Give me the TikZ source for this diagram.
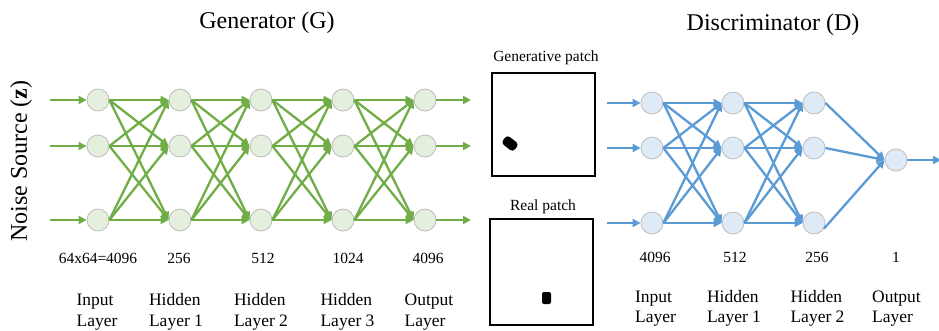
\documentclass[tikz,border=0pt]{standalone}
\usepackage{fontspec}
\setmainfont{Liberation Serif}
\usetikzlibrary{arrows.meta}
\definecolor{gline}{HTML}{70AD47}
\definecolor{gfill}{HTML}{E5EFDD}
\definecolor{bline}{HTML}{5B9BD5}
\definecolor{bfill}{HTML}{DEEBF7}
\definecolor{ringgray}{HTML}{BDBDBD}
\begin{document}
\begin{tikzpicture}[x=1pt,y=-1pt,
  neuron/.style={circle, draw=ringgray, line width=0.8pt, minimum size=22pt, inner sep=0pt},
  gnode/.style={neuron, fill=gfill},
  dnode/.style={neuron, fill=bfill},
  glink/.style={draw=gline, line width=2.3pt, -{Triangle[length=8pt,width=8pt]}},
  dlink/.style={draw=bline, line width=2.3pt, -{Triangle[length=8pt,width=8pt]}},
  title/.style={font=\fontsize{24}{28}\selectfont, inner sep=0pt},
  num/.style={font=\fontsize{15.5}{18}\selectfont, inner sep=0pt},
  lay/.style={font=\fontsize{17.5}{20.5}\selectfont, align=left, inner sep=0pt},
  patchcap/.style={font=\fontsize{15.5}{18}\selectfont, inner sep=0pt},
  patch/.style={draw=black, line width=1.7pt, fill=white}]
\useasboundingbox (0,0) rectangle (939,330);

% ---------------- Generator ----------------
\node[title] (gtitle) at (267,23) {Generator (G)};
\node[font=\fontsize{24}{28}\selectfont, rotate=90, inner sep=0pt] (noise) at (21,161) {Noise Source (\textbf{z})};

\foreach \c/\x in {0/98,1/180,2/261,3/343,4/425}
  \foreach \r/\y in {a/100,b/146,c/220}
    \node[gnode] (g\c\r) at (\x,\y) {};

\foreach \c [evaluate=\c as \n using int(\c+1)] in {0,...,3}
  \foreach \r in {a,b,c}
    \foreach \s in {a,b,c}
      \draw[glink] (g\c\r.east) -- (g\n\s.west);

\foreach \r/\y in {a/100,b/146,c/220}{
  \coordinate (gin\r) at (50,\y);
  \coordinate (gout\r) at (471,\y);
  \draw[glink, line width=2pt] (gin\r) -- (g0\r.west);
  \draw[glink, line width=2pt] (g4\r.east) -- (gout\r);
}

\node[num] (gn0) at (98,258) {64x64=4096};
\node[num] (gn1) at (179,258) {256};
\node[num] (gn2) at (263,258) {512};
\node[num] (gn3) at (348,258) {1024};
\node[num] (gn4) at (428,258) {4096};

\node[lay] (gl0) at (97,312) {Input\\Layer};
\node[lay] (gl1) at (176,312) {Hidden\\Layer 1};
\node[lay] (gl2) at (261,312) {Hidden\\Layer 2};
\node[lay] (gl3) at (347.5,312) {Hidden\\Layer 3};
\node[lay] (gl4) at (429,312) {Output\\Layer};

% ---------------- Patches ----------------
\node[patchcap] (gpcap) at (546,58) {Generative patch};
\draw[patch] (492,73) rectangle (595,176);
\node[fill=black, rounded corners=3.5pt, minimum width=15pt, minimum height=10pt, inner sep=0pt, rotate=-38] (gblob) at (510,143.5) {};

\node[patchcap] (rpcap) at (543,207) {Real patch};
\draw[patch] (490,219) rectangle (593,325);
\node[fill=black, rounded corners=2pt, minimum width=9pt, minimum height=12pt, inner sep=0pt] (rblob) at (546.5,298) {};

% ---------------- Discriminator ----------------
\node[title] (dtitle) at (773,25) {Discriminator (D)};

\foreach \c/\x in {0/652,1/733,2/814}
  \foreach \r/\y in {a/103,b/148,c/223}
    \node[dnode] (d\c\r) at (\x,\y) {};
\node[dnode] (dout) at (896,160) {};

\foreach \c [evaluate=\c as \n using int(\c+1)] in {0,1}
  \foreach \r in {a,b,c}
    \foreach \s in {a,b,c}
      \draw[dlink] (d\c\r.east) -- (d\n\s.west);

\draw[dlink] (d2a.east) -- (dout.west);
\draw[dlink] (d2b.east) -- (dout.west);
\draw[dlink] (d2c.-30) -- (dout.west);

\foreach \r/\y in {a/103,b/148,c/223}{
  \coordinate (din\r) at (607,\y);
  \draw[dlink, line width=2pt] (din\r) -- (d0\r.west);
}
\coordinate (dend) at (941,160);
\draw[dlink, line width=2pt] (dout.east) -- (dend);

\node[num] (dn0) at (655,257) {4096};
\node[num] (dn1) at (735,257) {512};
\node[num] (dn2) at (817,257) {256};
\node[num] (dn3) at (896,257) {1};

\node[lay] (dl0) at (655.5,308.5) {Input\\Layer};
\node[lay] (dl1) at (734,308.5) {Hidden\\Layer 1};
\node[lay] (dl2) at (817.5,308.5) {Hidden\\Layer 2};
\node[lay] (dl3) at (896.5,308.5) {Output\\Layer};
\end{tikzpicture}
\end{document}
